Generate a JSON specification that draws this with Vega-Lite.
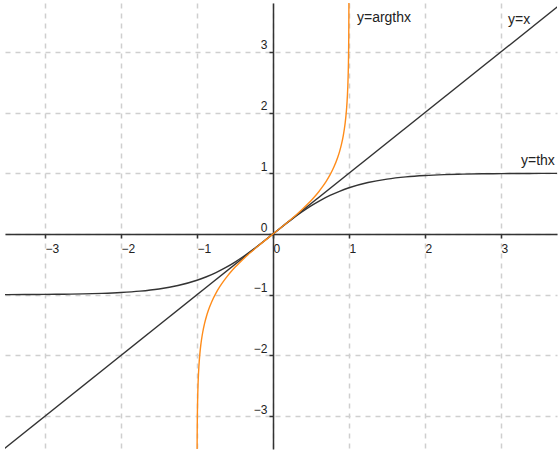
{
  "$schema": "https://vega.github.io/schema/vega-lite/v6.json",
  "width": 552,
  "height": 446,
  "autosize": {"type": "none"},
  "padding": {"left": 5, "top": 3, "right": 1, "bottom": 7},
  "background": "white",
  "config": {
    "view": {"stroke": null},
    "axis": {
      "grid": true,
      "gridColor": "#cfcfcf",
      "gridDash": [5, 5],
      "gridWidth": 1.5,
      "domainColor": "#333333",
      "domainWidth": 1.5,
      "tickColor": "#333333",
      "tickWidth": 1.5,
      "tickSize": 4,
      "labelFont": "Liberation Sans",
      "labelFontSize": 12,
      "labelColor": "#222222",
      "format": "d",
      "title": null
    }
  },
  "datasets": {
    "curves": [
      {"fn": "x", "x": -3.8, "y": -3.8},
      {"fn": "x", "x": 3.9, "y": 3.9},
      {"fn": "tanh", "x": -3.75, "y": -0.9989},
      {"fn": "tanh", "x": -3.5, "y": -0.9982},
      {"fn": "tanh", "x": -3.25, "y": -0.997},
      {"fn": "tanh", "x": -3.0, "y": -0.9951},
      {"fn": "tanh", "x": -2.75, "y": -0.9918},
      {"fn": "tanh", "x": -2.5, "y": -0.9866},
      {"fn": "tanh", "x": -2.25, "y": -0.978},
      {"fn": "tanh", "x": -2.0, "y": -0.964},
      {"fn": "tanh", "x": -1.75, "y": -0.9414},
      {"fn": "tanh", "x": -1.5, "y": -0.9051},
      {"fn": "tanh", "x": -1.25, "y": -0.8483},
      {"fn": "tanh", "x": -1.0, "y": -0.7616},
      {"fn": "tanh", "x": -0.875, "y": -0.7039},
      {"fn": "tanh", "x": -0.75, "y": -0.6351},
      {"fn": "tanh", "x": -0.625, "y": -0.5546},
      {"fn": "tanh", "x": -0.5, "y": -0.4621},
      {"fn": "tanh", "x": -0.375, "y": -0.3584},
      {"fn": "tanh", "x": -0.25, "y": -0.2449},
      {"fn": "tanh", "x": -0.125, "y": -0.1244},
      {"fn": "tanh", "x": 0.0, "y": 0.0},
      {"fn": "tanh", "x": 0.125, "y": 0.1244},
      {"fn": "tanh", "x": 0.25, "y": 0.2449},
      {"fn": "tanh", "x": 0.375, "y": 0.3584},
      {"fn": "tanh", "x": 0.5, "y": 0.4621},
      {"fn": "tanh", "x": 0.625, "y": 0.5546},
      {"fn": "tanh", "x": 0.75, "y": 0.6351},
      {"fn": "tanh", "x": 0.875, "y": 0.7039},
      {"fn": "tanh", "x": 1.0, "y": 0.7616},
      {"fn": "tanh", "x": 1.25, "y": 0.8483},
      {"fn": "tanh", "x": 1.5, "y": 0.9051},
      {"fn": "tanh", "x": 1.75, "y": 0.9414},
      {"fn": "tanh", "x": 2.0, "y": 0.964},
      {"fn": "tanh", "x": 2.25, "y": 0.978},
      {"fn": "tanh", "x": 2.5, "y": 0.9866},
      {"fn": "tanh", "x": 2.75, "y": 0.9918},
      {"fn": "tanh", "x": 3.0, "y": 0.9951},
      {"fn": "tanh", "x": 3.25, "y": 0.997},
      {"fn": "tanh", "x": 3.5, "y": 0.9982},
      {"fn": "tanh", "x": 3.75, "y": 0.9989},
      {"fn": "artanh", "x": -0.999, "y": -3.8002},
      {"fn": "artanh", "x": -0.9985, "y": -3.5974},
      {"fn": "artanh", "x": -0.998, "y": -3.4534},
      {"fn": "artanh", "x": -0.9975, "y": -3.3417},
      {"fn": "artanh", "x": -0.997, "y": -3.2504},
      {"fn": "artanh", "x": -0.995, "y": -2.9945},
      {"fn": "artanh", "x": -0.993, "y": -2.8257},
      {"fn": "artanh", "x": -0.99, "y": -2.6467},
      {"fn": "artanh", "x": -0.985, "y": -2.4427},
      {"fn": "artanh", "x": -0.98, "y": -2.2976},
      {"fn": "artanh", "x": -0.975, "y": -2.1847},
      {"fn": "artanh", "x": -0.97, "y": -2.0923},
      {"fn": "artanh", "x": -0.96, "y": -1.9459},
      {"fn": "artanh", "x": -0.95, "y": -1.8318},
      {"fn": "artanh", "x": -0.94, "y": -1.738},
      {"fn": "artanh", "x": -0.925, "y": -1.6226},
      {"fn": "artanh", "x": -0.9, "y": -1.4722},
      {"fn": "artanh", "x": -0.875, "y": -1.354},
      {"fn": "artanh", "x": -0.85, "y": -1.2562},
      {"fn": "artanh", "x": -0.8, "y": -1.0986},
      {"fn": "artanh", "x": -0.75, "y": -0.973},
      {"fn": "artanh", "x": -0.7, "y": -0.8673},
      {"fn": "artanh", "x": -0.65, "y": -0.7753},
      {"fn": "artanh", "x": -0.6, "y": -0.6931},
      {"fn": "artanh", "x": -0.55, "y": -0.6184},
      {"fn": "artanh", "x": -0.5, "y": -0.5493},
      {"fn": "artanh", "x": -0.45, "y": -0.4847},
      {"fn": "artanh", "x": -0.4, "y": -0.4236},
      {"fn": "artanh", "x": -0.3, "y": -0.3095},
      {"fn": "artanh", "x": -0.2, "y": -0.2027},
      {"fn": "artanh", "x": -0.1, "y": -0.1003},
      {"fn": "artanh", "x": 0.0, "y": 0.0},
      {"fn": "artanh", "x": 0.1, "y": 0.1003},
      {"fn": "artanh", "x": 0.2, "y": 0.2027},
      {"fn": "artanh", "x": 0.3, "y": 0.3095},
      {"fn": "artanh", "x": 0.4, "y": 0.4236},
      {"fn": "artanh", "x": 0.45, "y": 0.4847},
      {"fn": "artanh", "x": 0.5, "y": 0.5493},
      {"fn": "artanh", "x": 0.55, "y": 0.6184},
      {"fn": "artanh", "x": 0.6, "y": 0.6931},
      {"fn": "artanh", "x": 0.65, "y": 0.7753},
      {"fn": "artanh", "x": 0.7, "y": 0.8673},
      {"fn": "artanh", "x": 0.75, "y": 0.973},
      {"fn": "artanh", "x": 0.8, "y": 1.0986},
      {"fn": "artanh", "x": 0.85, "y": 1.2562},
      {"fn": "artanh", "x": 0.875, "y": 1.354},
      {"fn": "artanh", "x": 0.9, "y": 1.4722},
      {"fn": "artanh", "x": 0.925, "y": 1.6226},
      {"fn": "artanh", "x": 0.94, "y": 1.738},
      {"fn": "artanh", "x": 0.95, "y": 1.8318},
      {"fn": "artanh", "x": 0.96, "y": 1.9459},
      {"fn": "artanh", "x": 0.97, "y": 2.0923},
      {"fn": "artanh", "x": 0.975, "y": 2.1847},
      {"fn": "artanh", "x": 0.98, "y": 2.2976},
      {"fn": "artanh", "x": 0.985, "y": 2.4427},
      {"fn": "artanh", "x": 0.99, "y": 2.6467},
      {"fn": "artanh", "x": 0.993, "y": 2.8257},
      {"fn": "artanh", "x": 0.995, "y": 2.9945},
      {"fn": "artanh", "x": 0.997, "y": 3.2504},
      {"fn": "artanh", "x": 0.9975, "y": 3.3417},
      {"fn": "artanh", "x": 0.998, "y": 3.4534},
      {"fn": "artanh", "x": 0.9985, "y": 3.5974},
      {"fn": "artanh", "x": 0.999, "y": 3.8002},
      {"fn": "artanh", "x": 0.9992, "y": 3.9118}
    ],
    "labels": [
      {"text": "y=argthx", "x": 1.105, "y": 3.558},
      {"text": "y=x", "x": 3.092, "y": 3.526},
      {"text": "y=thx", "x": 3.263, "y": 1.203}
    ]
  },
  "layer": [
    {
      "data": {"name": "curves"},
      "mark": {"type": "line", "clip": true, "interpolate": "monotone", "strokeWidth": 1.4},
      "encoding": {
        "x": {
          "field": "x",
          "type": "quantitative",
          "scale": {"domain": [-3.526, 3.737], "nice": false, "zero": false},
          "axis": {
            "values": [-3, -2, -1, 0, 1, 2, 3],
            "offset": -215,
            "labelAlign": "left",
            "labelDx": 6,
            "labelPadding": 5,
            "labelFlush": false,
            "labelOverlap": false
          }
        },
        "y": {
          "field": "y",
          "type": "quantitative",
          "scale": {"domain": [-3.542, 3.806], "nice": false, "zero": false},
          "axis": {
            "values": [-3, -2, -1, 0, 1, 2, 3],
            "offset": -268,
            "labelAlign": "right",
            "labelBaseline": "bottom",
            "labelDy": -1,
            "labelPadding": 2,
            "labelFlush": false,
            "labelOverlap": false
          }
        },
        "color": {
          "field": "fn",
          "type": "nominal",
          "scale": {"domain": ["x", "tanh", "artanh"], "range": ["#333333", "#333333", "#ff8c1a"]},
          "legend": null
        },
        "order": {"field": "x", "type": "quantitative"}
      }
    },
    {
      "data": {"name": "labels"},
      "mark": {"type": "text", "align": "left", "baseline": "middle", "font": "Liberation Sans", "fontSize": 14, "color": "#222222"},
      "encoding": {
        "x": {"field": "x", "type": "quantitative"},
        "y": {"field": "y", "type": "quantitative"},
        "text": {"field": "text", "type": "nominal"}
      }
    }
  ]
}
